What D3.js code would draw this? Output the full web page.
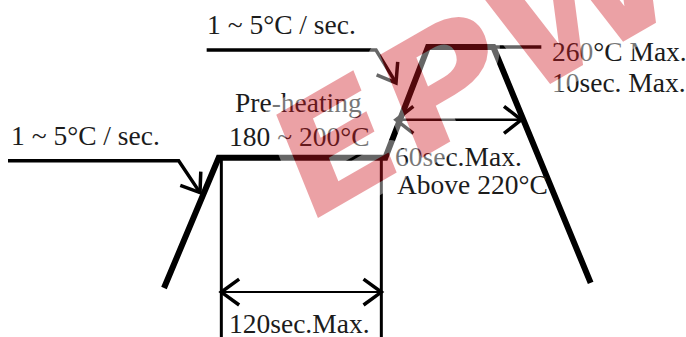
<!DOCTYPE html>
<html>
<head>
<meta charset="utf-8">
<script src="https://cdn.jsdelivr.net/npm/d3@7"></script>
<style>
  body { margin: 0; background: #fff; }
  svg { display: block; }
</style>
</head>
<body>
<svg id="chart"></svg>
<script>
const width = 686, height = 337;

// schematic reflow profile: time (s) and temperature (°C)
const profileTime = [117, 158, 283, 315, 364, 437];
const profileTemp = [25, 152, 152, 260, 260, 30];

// pre-heating window and the time spent above 220°C
const preheatWindow = [160, 280];
const preheatArrowTemp = 21;
const reflowWindow = [291, 385];
const reflowArrowTemp = 189;

// peak hold extension to the "260°C Max." note
const peakLeaderTime = [364, 400];

// ramp rate leaders (bent arrows)
const leftLeaderTime = [0, 128, 144];
const leftLeaderTemp = [149, 149, 118];
const topLeaderTime = [149, 276, 291];
const topLeaderTemp = [257, 257, 225];

const labels = [
  "1 ~ 5°C / sec.", "1 ~ 5°C / sec.", "Pre-heating", "180 ~ 200°C",
  "260°C Max.", "10sec. Max.", "60sec.Max.", "Above 220°C", "120sec.Max."
];
const watermark = "EPW";

const x = d3.scaleLinear().domain([0, 510]).range([8, 688]);
const y = d3.scaleLinear().domain([25, 260]).range([288, 47]);

const svg = d3.select("#chart")
  .attr("width", width)
  .attr("height", height);

const line = d3.line().x(d => x(d[0])).y(d => y(d[1]));

function arrowHead(g, x0, y0, x1, y1, len, spread, w) {
  const a = Math.atan2(y1 - y0, x1 - x0);
  const phi = spread * Math.PI / 180;
  const p1 = [x1 + len * Math.cos(a + Math.PI - phi), y1 + len * Math.sin(a + Math.PI - phi)];
  const p2 = [x1 + len * Math.cos(a + Math.PI + phi), y1 + len * Math.sin(a + Math.PI + phi)];
  g.append("path")
    .attr("d", d3.line()([p1, [x1, y1], p2]))
    .attr("fill", "none")
    .attr("stroke", "#000")
    .attr("stroke-width", w)
    .attr("stroke-linejoin", "miter");
}

const g = svg.append("g");

// dimension lines for pre-heating
preheatWindow.forEach(t => {
  g.append("line")
    .attr("x1", x(t)).attr("x2", x(t))
    .attr("y1", y(profileTemp[1])).attr("y2", height)
    .attr("stroke", "#000").attr("stroke-width", 3);
});
g.append("line")
  .attr("x1", x(preheatWindow[0])).attr("x2", x(preheatWindow[1]))
  .attr("y1", y(preheatArrowTemp)).attr("y2", y(preheatArrowTemp))
  .attr("stroke", "#000").attr("stroke-width", 2);
arrowHead(g, x(preheatWindow[1]), y(preheatArrowTemp), x(preheatWindow[0]), y(preheatArrowTemp), 22, 36, 3.5);
arrowHead(g, x(preheatWindow[0]), y(preheatArrowTemp), x(preheatWindow[1]), y(preheatArrowTemp), 22, 36, 3.5);

// 60 sec above 220°C
g.append("line")
  .attr("x1", x(reflowWindow[0])).attr("x2", x(reflowWindow[1]))
  .attr("y1", y(reflowArrowTemp)).attr("y2", y(reflowArrowTemp))
  .attr("stroke", "#000").attr("stroke-width", 2.5);
arrowHead(g, x(reflowWindow[1]), y(reflowArrowTemp), x(reflowWindow[0]), y(reflowArrowTemp), 22, 38, 3.5);
arrowHead(g, x(reflowWindow[0]), y(reflowArrowTemp), x(reflowWindow[1]), y(reflowArrowTemp), 22, 38, 3.5);

// peak leader
g.append("line")
  .attr("x1", x(peakLeaderTime[0])).attr("x2", x(peakLeaderTime[1]))
  .attr("y1", y(260)).attr("y2", y(260))
  .attr("stroke", "#000").attr("stroke-width", 3.5);

// ramp leaders
[[leftLeaderTime, leftLeaderTemp], [topLeaderTime, topLeaderTemp]].forEach(([ts, vs]) => {
  const pts = d3.zip(ts, vs);
  g.append("path")
    .attr("d", line(pts))
    .attr("fill", "none")
    .attr("stroke", "#000")
    .attr("stroke-width", 3.5);
  const n = pts.length;
  arrowHead(g, x(ts[n - 2]), y(vs[n - 2]), x(ts[n - 1]), y(vs[n - 1]), 21, 36, 3.5);
});

// the profile itself
g.append("path")
  .attr("d", line(d3.zip(profileTime, profileTemp)))
  .attr("fill", "none")
  .attr("stroke", "#000")
  .attr("stroke-width", 6)
  .attr("stroke-linejoin", "miter");

// labels
const labelPos = [
  [207, 34], [11, 145], [235, 112], [229, 146],
  [552, 61], [552, 92], [395, 166], [397, 194], [229, 333]
];
svg.append("g")
  .selectAll("text")
  .data(labels)
  .join("text")
  .attr("x", (d, i) => labelPos[i][0])
  .attr("y", (d, i) => labelPos[i][1])
  .attr("font-family", "'Liberation Serif', 'Times New Roman', serif")
  .attr("font-size", 27.5)
  .attr("fill", "#1c1c1c")
  .text(d => d);

// watermark
svg.append("g")
  .attr("opacity", 0.4)
  .append("text")
  .attr("transform", "translate(304,226) rotate(-30) skewX(-8) scale(1.3,1.12)")
  .attr("font-family", "'DejaVu Sans', sans-serif")
  .attr("font-weight", "bold")
  .attr("font-size", 135)
  .attr("fill", "#cf1620")
  .attr("stroke", "#fff")
  .attr("stroke-width", 20)
  .attr("stroke-linejoin", "round")
  .attr("paint-order", "stroke")
  .text(watermark);
</script>
</body>
</html>
